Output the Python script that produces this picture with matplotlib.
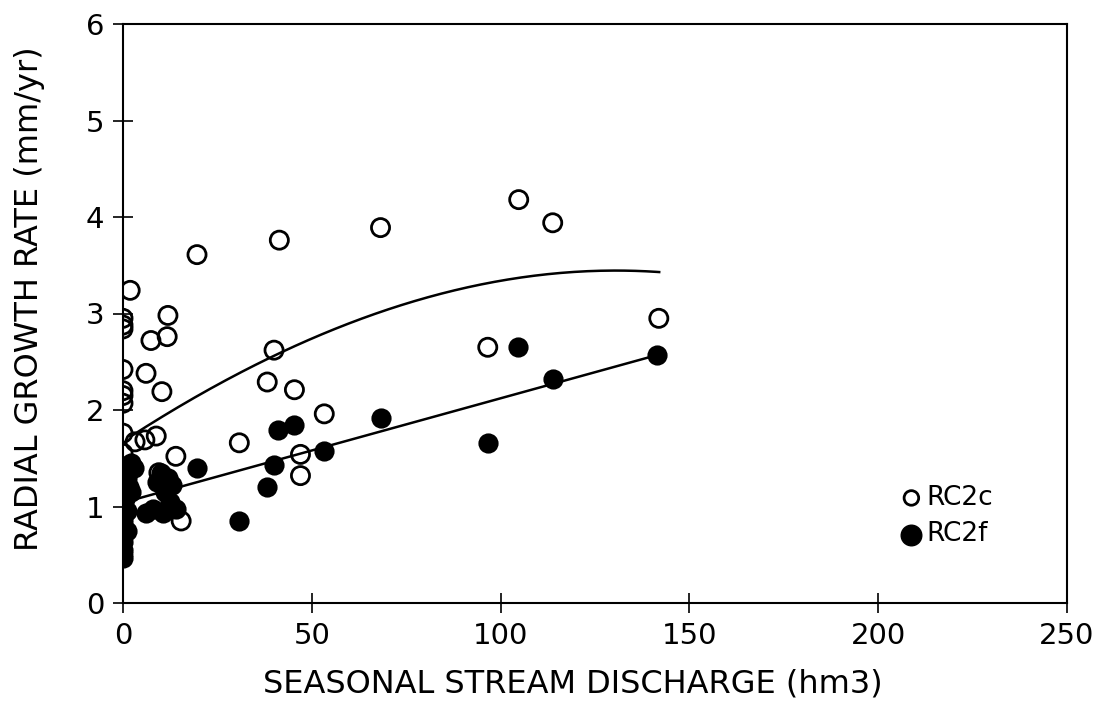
import matplotlib
matplotlib.use("Agg")
import matplotlib.pyplot as plt
import numpy as np

# RC2c (open circles)
rc2c_x = [104.8, 113.8, 68.2, 41.4, 19.6, 141.9, 96.6, 40.0, 38.2, 45.4, 53.3, 30.8, 47.0, 47.0,
          1.9, 11.9, 11.7, 7.4, 6.1, 10.3, 8.8, 5.8, 3.2, 14.0, 15.4,
          0, 0, 0, 0, 0, 0, 0, 0, 0, 0, 0, 9.5, 11.0, 0, 0, 0.5]
rc2c_y = [4.18, 3.94, 3.89, 3.76, 3.61, 2.95, 2.65, 2.62, 2.29, 2.21, 1.96, 1.66, 1.54, 1.32,
          3.24, 2.98, 2.76, 2.72, 2.38, 2.19, 1.73, 1.69, 1.67, 1.52, 0.85,
          2.95, 2.88, 2.84, 2.42, 2.20, 2.15, 2.07, 1.76, 1.55, 1.40, 0.50, 1.35, 1.22, 1.10, 0.95, 1.30]

# RC2f (filled circles)
rc2f_x = [141.5, 104.5, 113.8, 96.6, 68.2, 53.3, 45.4, 41.1, 40.0, 38.2, 30.8, 19.6,
          10.0, 12.0, 9.0, 13.0, 11.0, 6.0, 8.0, 10.5, 14.0, 12.5, 2.0, 3.0, 1.0, 1.5,
          0, 0, 0, 0, 0, 0, 0, 0, 0, 0, 0, 0, 0, 0, 0.5, 1.0, 2.0, 1.0]
rc2f_y = [2.57, 2.65, 2.32, 1.66, 1.92, 1.58, 1.84, 1.79, 1.43, 1.20, 0.85, 1.40,
          1.35, 1.30, 1.25, 1.22, 1.15, 0.93, 0.97, 0.93, 0.97, 1.05, 1.45, 1.40, 1.30, 1.20,
          0.47, 0.55, 0.63, 0.70, 0.78, 0.85, 0.90, 0.97, 1.03, 1.10, 1.17, 1.25, 1.33, 1.42,
          1.08, 0.95, 1.15, 0.75]

# fitted curves
curve_c_x = [2, 20, 33.7, 42.4, 60, 86.7, 110, 125, 142]
curve_c_y = [1.74, 2.12, 2.44, 2.62, 2.90, 3.25, 3.38, 3.43, 3.44]
line_f_x = [0, 141.5]
line_f_y = [1.04, 2.57]

fig = plt.figure(figsize=(11.1, 7.09), dpi=100)
ax = fig.add_axes([123/1110, 1-603/709, 944/1110, 579/709])

# smooth curve through the read points
p = np.polyfit(curve_c_x, curve_c_y, 3)
xx = np.linspace(curve_c_x[0], curve_c_x[-1], 200)
ax.plot(xx, np.polyval(p, xx), color='k', lw=1.8, zorder=2)
ax.plot(line_f_x, line_f_y, color='k', lw=1.8, zorder=2)

ax.scatter(rc2f_x, rc2f_y, s=170, facecolor='k', edgecolor='k', lw=1.5, zorder=3)
ax.scatter(rc2c_x, rc2c_y, s=170, facecolor='none', edgecolor='k', lw=2.0, zorder=4)

ax.set_xlim(0, 250)
ax.set_ylim(0, 6)
ax.set_xticks([0, 50, 100, 150, 200, 250])
ax.set_yticks([0, 1, 2, 3, 4, 5, 6])
ax.tick_params(direction='inout', length=15, width=1.2, labelsize=21, pad=6)
for s in ax.spines.values():
    s.set_linewidth(1.5)

ax.set_xlabel('SEASONAL STREAM DISCHARGE (hm3)', fontsize=23)
ax.set_ylabel('RADIAL GROWTH RATE (mm/yr)', fontsize=23)
ax.xaxis.set_label_coords(0.476, -0.113)
ax.yaxis.set_label_coords(-0.083, 0.525)

h1 = ax.scatter([], [], s=110, facecolor='none', edgecolor='k', lw=2.0)
h2 = ax.scatter([], [], s=220, facecolor='k', edgecolor='k')
ax.legend([h1, h2], ['RC2c', 'RC2f'], loc='center left', bbox_to_anchor=(0.81, 0.15),
          frameon=False, fontsize=19, handletextpad=0.05, labelspacing=0.4,
          handlelength=1.0, borderaxespad=0)

fig.savefig('out.png', dpi=100)
